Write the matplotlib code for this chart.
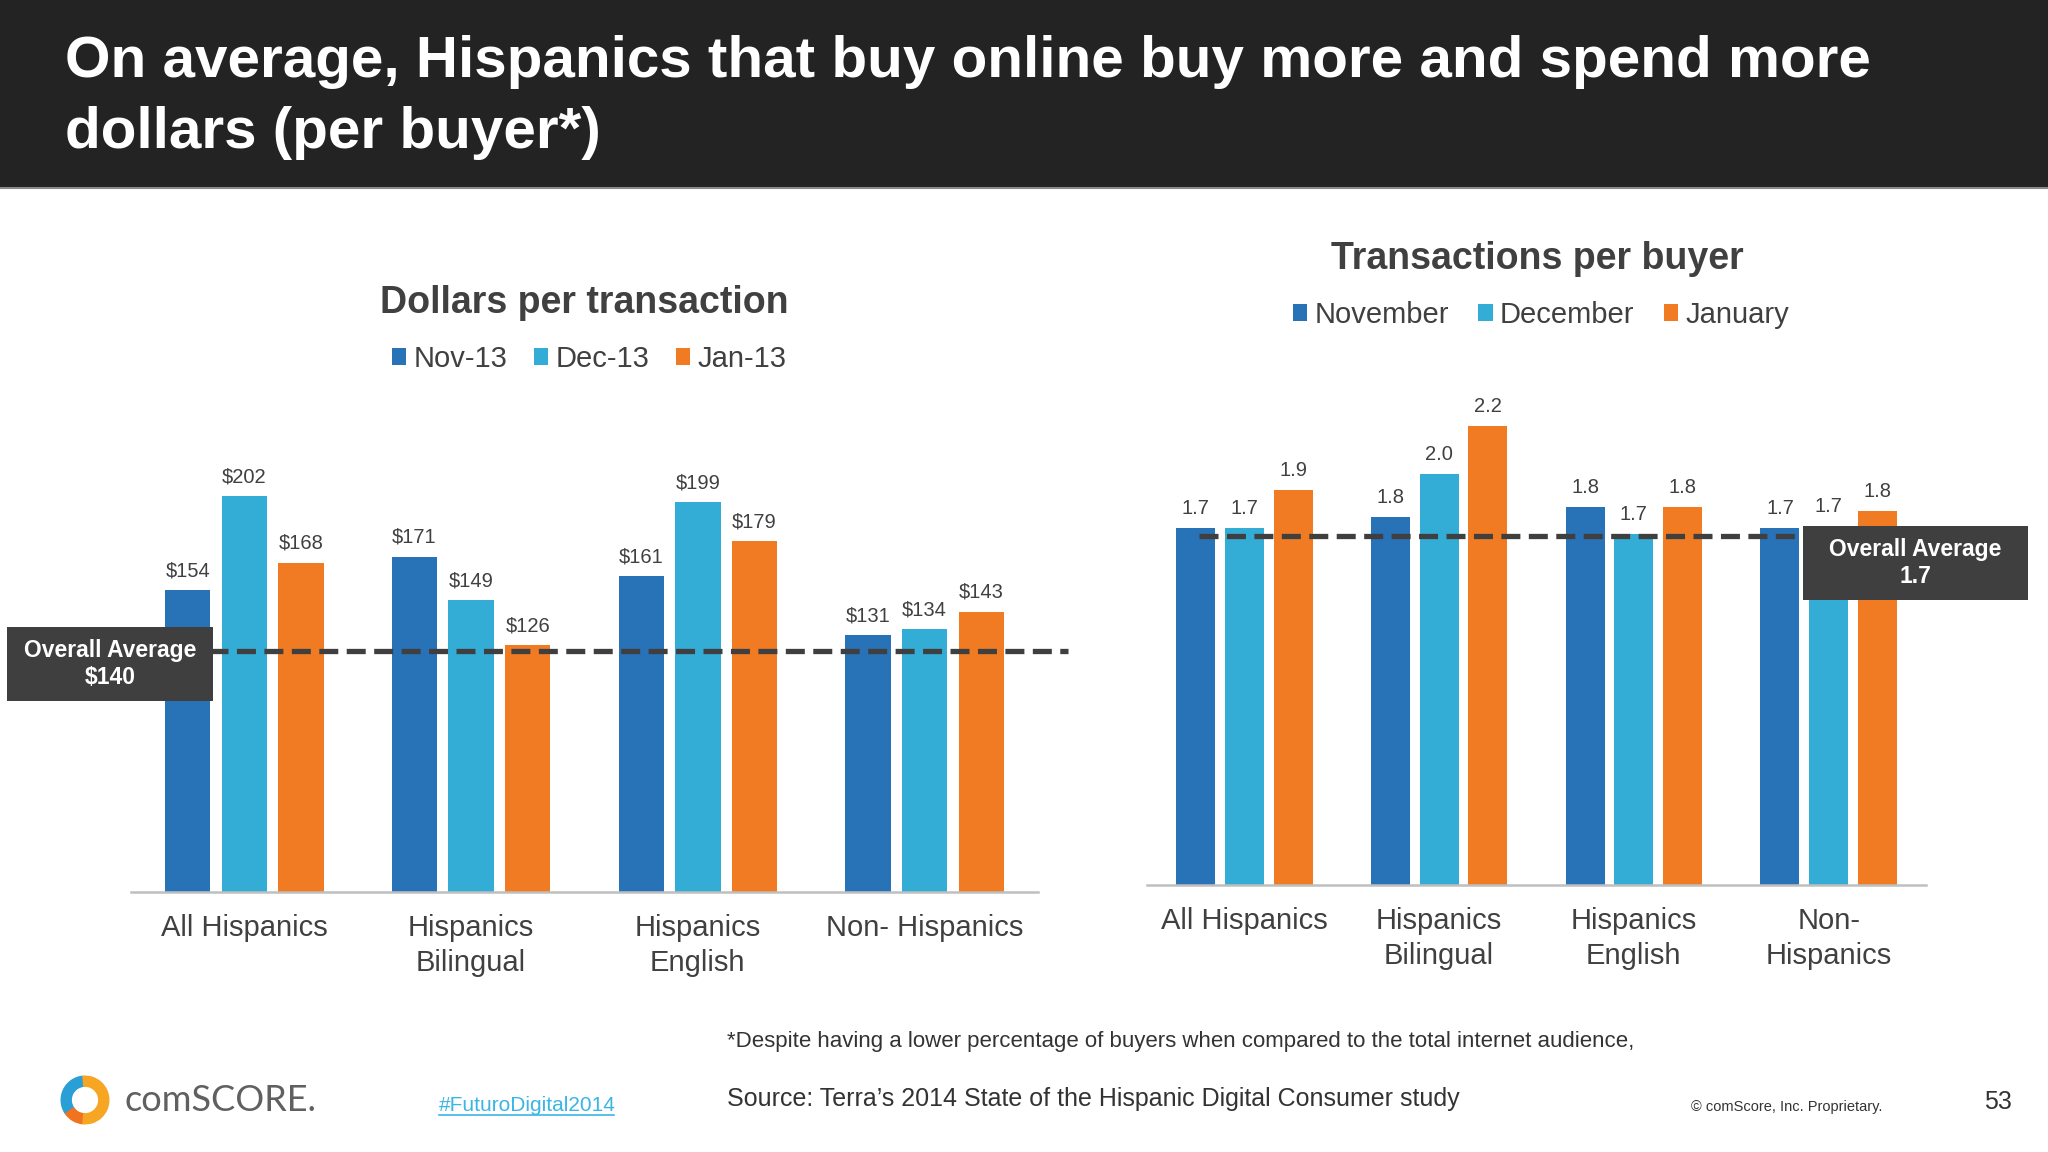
import matplotlib
matplotlib.use("Agg")
import matplotlib.pyplot as plt
from matplotlib.patches import Rectangle, Wedge
from matplotlib.lines import Line2D
import numpy as np

plt.rcParams['font.family'] = ['Liberation Sans', 'DejaVu Sans']

# --- dados ---
groups_left = ['All Hispanics', 'Hispanics\nBilingual', 'Hispanics\nEnglish', 'Non- Hispanics']
months_left = ['Nov-13', 'Dec-13', 'Jan-13']
dollars_nov = [154, 171, 161, 131]
dollars_dec = [202, 149, 199, 134]
dollars_jan = [168, 126, 179, 143]
avg_dollars_label = '$140'
avg_dollars_line = 123  # where the dashed line is drawn in the picture

groups_right = ['All Hispanics', 'Hispanics\nBilingual', 'Hispanics\nEnglish', 'Non-\nHispanics']
months_right = ['November', 'December', 'January']
trans_nov = [1.71, 1.76, 1.81, 1.71]
trans_dec = [1.71, 1.97, 1.68, 1.72]
trans_jan = [1.89, 2.20, 1.81, 1.79]
trans_nov_lbl = ['1.7', '1.8', '1.8', '1.7']
trans_dec_lbl = ['1.7', '2.0', '1.7', '1.7']
trans_jan_lbl = ['1.9', '2.2', '1.8', '1.8']
avg_trans_label = '1.7'
avg_trans_line = 1.67

colors = ['#2872b8', '#33acd6', '#f07b22']
txt = '#404040'

W, H = 2048, 1152
fig = plt.figure(figsize=(W / 100, H / 100), dpi=100)
fig.patch.set_facecolor('white')


def fx(px):
    return px / W


def fy(py):
    return 1 - py / H


# --- cabeçalho ---
fig.add_artist(Rectangle((0, fy(187)), 1, 187 / H, transform=fig.transFigure,
                         facecolor='#232323', edgecolor='none', zorder=0))
fig.add_artist(Line2D([0, 1], [fy(188), fy(188)], transform=fig.transFigure,
                      color='#8a8a8a', lw=1.5))
fig.text(fx(65), fy(77), 'On average, Hispanics that buy online buy more and spend more',
         color='white', fontsize=42, fontweight='bold', va='baseline')
fig.text(fx(65), fy(148), 'dollars (per buyer*)',
         color='white', fontsize=42, fontweight='bold', va='baseline')


def grouped_bars(ax, series, labels, fmt_labels, cats, ymax):
    x = np.arange(len(cats))
    for i, (vals, lab) in enumerate(zip(series, labels)):
        bars = ax.bar(x + (i - 1) * 0.25, vals, width=0.2, color=colors[i], label=lab, zorder=2)
        for b, t in zip(bars, fmt_labels[i]):
            ax.annotate(t, (b.get_x() + b.get_width() / 2, b.get_height()),
                        xytext=(0, 14), textcoords='offset points',
                        ha='center', va='center', fontsize=14.5, color=txt)
    ax.set_xlim(-0.5, len(cats) - 0.5)
    ax.set_ylim(0, ymax)
    ax.set_xticks(x)
    ax.set_xticklabels(cats, fontsize=21, color=txt, linespacing=1.3)
    ax.tick_params(axis='x', length=0, pad=16)
    ax.set_yticks([])
    for s in ['top', 'right', 'left']:
        ax.spines[s].set_visible(False)
    ax.spines['bottom'].set_color('#bfbfbf')
    ax.spines['bottom'].set_linewidth(1.8)
    ax.patch.set_alpha(0)


# --- gráfico da esquerda: dólares por transação ---
axl = fig.add_axes([fx(131), fy(892), 907 / W, 490 / H])
grouped_bars(axl, [dollars_nov, dollars_dec, dollars_jan], months_left,
             [['$%d' % v for v in s] for s in [dollars_nov, dollars_dec, dollars_jan]],
             groups_left, 250)
axl.axhline(avg_dollars_line, xmin=0.086, xmax=1.033, color='#3f3f3f', lw=3.8,
            ls=(0, (3.6, 1.6)), clip_on=False, zorder=3)
fig.text(fx(584), fy(313), 'Dollars per transaction', fontsize=27, fontweight='bold',
         color=txt, ha='center', va='baseline')
axl.legend(loc='center', bbox_to_anchor=(fx(589), fy(359)), bbox_transform=fig.transFigure,
           ncol=3, frameon=False, fontsize=21, handlelength=0.5, handleheight=0.5,
           handletextpad=0.25, columnspacing=0.9, labelcolor=txt)

# --- gráfico da direita: transações por comprador ---
axr = fig.add_axes([fx(1147), fy(885), 779 / W, 543 / H])
grouped_bars(axr, [trans_nov, trans_dec, trans_jan], months_right,
             [trans_nov_lbl, trans_dec_lbl, trans_jan_lbl], groups_right, 2.6)
axr.axhline(avg_trans_line, xmin=0.067, xmax=0.841, color='#3f3f3f', lw=3.8,
            ls=(0, (3.6, 1.6)), clip_on=False, zorder=3)
fig.text(fx(1537), fy(269), 'Transactions per buyer', fontsize=27, fontweight='bold',
         color=txt, ha='center', va='baseline')
axr.legend(loc='center', bbox_to_anchor=(fx(1541), fy(315)), bbox_transform=fig.transFigure,
           ncol=3, frameon=False, fontsize=21, handlelength=0.5, handleheight=0.5,
           handletextpad=0.25, columnspacing=1.0, labelcolor=txt)

# --- caixas "Overall Average" ---
for (x0, y0, x1, y1), val in [((7, 627, 213, 701), avg_dollars_label),
                              ((1803, 526, 2028, 600), avg_trans_label)]:
    fig.add_artist(Rectangle((fx(x0), fy(y1)), (x1 - x0) / W, (y1 - y0) / H,
                             transform=fig.transFigure, facecolor='#3f3f3f',
                             edgecolor='none', zorder=5))
    fig.text(fx((x0 + x1) / 2), fy((y0 + y1) / 2), 'Overall Average\n' + val,
             ha='center', va='center', color='white', fontsize=16.5,
             fontweight='bold', linespacing=1.25, zorder=6)

# --- rodapé ---
fig.text(fx(727), fy(1047), '*Despite having a lower percentage of buyers when compared to the total internet audience,',
         fontsize=16, color='#333333', va='baseline')
fig.text(fx(727), fy(1106), 'Source: Terra\u2019s 2014 State of the Hispanic Digital Consumer study',
         fontsize=18, color='#333333', va='baseline')
fig.text(fx(439), fy(1111), '#FuturoDigital2014', fontsize=15, color='#3bb4e6', va='baseline')
fig.add_artist(Line2D([fx(439), fx(614)], [fy(1115), fy(1115)], transform=fig.transFigure,
                      color='#3bb4e6', lw=1.2))
fig.text(fx(1691), fy(1111), '\u00a9 comScore, Inc. Proprietary.', fontsize=10.5,
         color='#333333', va='baseline')
fig.text(fx(1984), fy(1109), '53', fontsize=18, color='#333333', va='baseline')

# logo comScore
axlogo = fig.add_axes([fx(60), fy(1125), 50 / W, 50 / H])
axlogo.set_aspect('equal')
axlogo.set_xlim(-1.05, 1.05)
axlogo.set_ylim(-1.05, 1.05)
axlogo.axis('off')
axlogo.add_patch(Wedge((0, 0), 1, 95, 215, width=0.42, color='#2a9fd6'))
axlogo.add_patch(Wedge((0, 0), 1, 215, 265, width=0.42, color='#f0731f'))
axlogo.add_patch(Wedge((0, 0), 1, -95, 95, width=0.42, color='#f7a623'))
fig.text(fx(124), fy(1111), 'comSCORE.', fontsize=26, color='#606060',
         family=['Lato', 'DejaVu Sans'], va='baseline')

fig.savefig('out.png', dpi=100)
